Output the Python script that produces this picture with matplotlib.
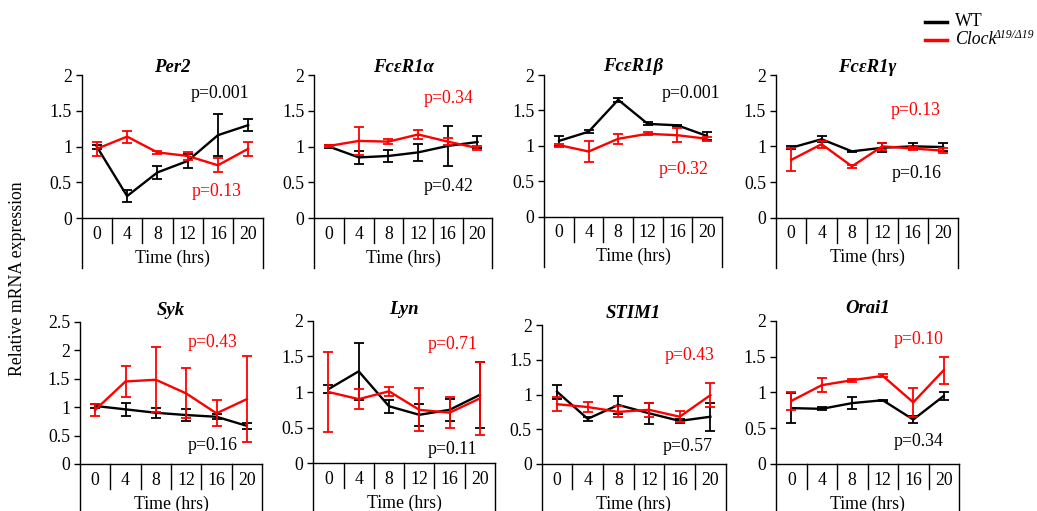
import matplotlib
matplotlib.use("Agg")
import matplotlib.pyplot as plt
import matplotlib.transforms as mtransforms

plt.rcParams['font.family'] = ['Liberation Serif', 'DejaVu Serif']
plt.rcParams['font.size'] = 12.8

times = ['0', '4', '8', '12', '16', '20']
genes = ['Per2', 'FcεR1α', 'FcεR1β', 'FcεR1γ', 'Syk', 'Lyn', 'STIM1', 'Orai1']

# mean and error (SEM) for WT and Clock mutants, per gene
per2_wt = [1.00, 0.31, 0.64, 0.80, 1.16, 1.30]
per2_wt_err = [0.03, 0.08, 0.085, 0.10, 0.29, 0.085]
per2_clk = [0.97, 1.14, 0.92, 0.87, 0.74, 0.97]
per2_clk_err = [0.10, 0.085, 0.02, 0.05, 0.10, 0.10]

fca_wt = [1.00, 0.85, 0.87, 0.92, 1.01, 1.065]
fca_wt_err = [0.02, 0.09, 0.09, 0.12, 0.28, 0.09]
fca_clk = [1.01, 1.08, 1.07, 1.17, 1.07, 0.98]
fca_clk_err = [0.02, 0.19, 0.035, 0.06, 0.05, 0.03]

fcb_wt = [1.07, 1.20, 1.65, 1.31, 1.29, 1.14]
fcb_wt_err = [0.07, 0.02, 0.03, 0.02, 0.01, 0.06]
fcb_clk = [1.01, 0.92, 1.10, 1.17, 1.15, 1.10]
fcb_clk_err = [0.02, 0.145, 0.07, 0.02, 0.10, 0.03]

fcg_wt = [0.98, 1.10, 0.93, 0.98, 1.00, 0.99]
fcg_wt_err = [0.02, 0.04, 0.01, 0.06, 0.04, 0.05]
fcg_clk = [0.81, 1.03, 0.72, 1.00, 0.97, 0.94]
fcg_clk_err = [0.16, 0.05, 0.02, 0.05, 0.02, 0.03]

syk_wt = [1.02, 0.96, 0.90, 0.86, 0.83, 0.67]
syk_wt_err = [0.03, 0.11, 0.09, 0.11, 0.04, 0.05]
syk_clk = [0.95, 1.45, 1.48, 1.24, 0.89, 1.14]
syk_clk_err = [0.11, 0.28, 0.57, 0.44, 0.23, 0.75]

lyn_wt = [1.04, 1.29, 0.80, 0.68, 0.75, 0.96]
lyn_wt_err = [0.06, 0.40, 0.09, 0.15, 0.15, 0.46]
lyn_clk = [1.00, 0.90, 1.01, 0.75, 0.71, 0.91]
lyn_clk_err = [0.56, 0.14, 0.06, 0.30, 0.22, 0.51]

stim_wt = [1.04, 0.65, 0.85, 0.73, 0.62, 0.68]
stim_wt_err = [0.10, 0.03, 0.13, 0.15, 0.03, 0.20]
stim_clk = [0.86, 0.82, 0.75, 0.78, 0.68, 0.99]
stim_clk_err = [0.10, 0.07, 0.08, 0.10, 0.08, 0.17]

orai_wt = [0.78, 0.77, 0.85, 0.89, 0.62, 0.95]
orai_wt_err = [0.21, 0.02, 0.08, 0.01, 0.05, 0.06]
orai_clk = [0.88, 1.10, 1.17, 1.23, 0.86, 1.31]
orai_clk_err = [0.12, 0.10, 0.02, 0.02, 0.20, 0.19]

wt_means = [per2_wt, fca_wt, fcb_wt, fcg_wt, syk_wt, lyn_wt, stim_wt, orai_wt]
wt_errs = [per2_wt_err, fca_wt_err, fcb_wt_err, fcg_wt_err, syk_wt_err, lyn_wt_err, stim_wt_err, orai_wt_err]
clk_means = [per2_clk, fca_clk, fcb_clk, fcg_clk, syk_clk, lyn_clk, stim_clk, orai_clk]
clk_errs = [per2_clk_err, fca_clk_err, fcb_clk_err, fcg_clk_err, syk_clk_err, lyn_clk_err, stim_clk_err, orai_clk_err]

wt_p = ['p=0.001', 'p=0.42', 'p=0.001', 'p=0.16', 'p=0.16', 'p=0.11', 'p=0.57', 'p=0.34']
clk_p = ['p=0.13', 'p=0.34', 'p=0.32', 'p=0.13', 'p=0.43', 'p=0.71', 'p=0.43', 'p=0.10']
ymax = [2, 2, 2, 2, 2.5, 2, 2, 2]

# layout in pixels: left, right, top, bottom(y=0)
W, H = 1037, 511
boxes = [(81.7, 263.3, 75, 218.3), (314.3, 492.3, 75, 218.3),
         (544.3, 721.7, 75, 216.7), (776, 958.3, 75, 217.7),
         (80, 262, 321.7, 464), (313.3, 495, 320.7, 463.3),
         (541.7, 725.7, 325, 464), (776, 959, 320.7, 464)]
# p-value label positions (axes fraction, right aligned)
wt_pos = [(0.923, 0.872), (0.893, 0.221), (0.99, 0.87), (0.91, 0.31),
          (0.864, 0.129), (0.90, 0.10), (0.93, 0.125), (0.917, 0.156)]
clk_pos = [(0.881, 0.186), (0.893, 0.837), (0.928, 0.33), (0.904, 0.75),
           (0.864, 0.855), (0.907, 0.834), (0.942, 0.777), (0.914, 0.87)]
title_y = [1.055, 1.052, 1.06, 1.055, 1.082, 1.08, 1.086, 1.085]

RED = '#FF0000'
fig = plt.figure(figsize=(W / 100, H / 100), dpi=100)
x = list(range(len(times)))

for i, gene in enumerate(genes):
    l, r, t, b = boxes[i]
    ax = fig.add_axes([l / W, 1 - b / H, (r - l) / W, (b - t) / H])
    hpx = b - t
    ax.errorbar(x, wt_means[i], yerr=wt_errs[i], color='black', lw=1.7,
                elinewidth=1.3, capsize=3.8, capthick=1.3, zorder=3)
    ax.errorbar(x, clk_means[i], yerr=clk_errs[i], color=RED, lw=1.7,
                elinewidth=1.3, capsize=3.8, capthick=1.3, zorder=4)
    ax.set_xlim(-0.5, 5.5)
    ax.set_ylim(0, ymax[i])
    yt = [k * 0.5 for k in range(int(ymax[i] / 0.5) + 1)]
    ax.set_yticks(yt)
    ax.set_yticklabels([('%g' % v) for v in yt])
    ax.set_xticks(x)
    ax.set_xticklabels(times)
    ax.tick_params(axis='x', length=0, pad=5.5)
    ax.tick_params(axis='y', length=4, width=1, pad=3)
    for s in ['top', 'right']:
        ax.spines[s].set_visible(False)
    for s in ['left', 'bottom']:
        ax.spines[s].set_linewidth(1.0)

    # category table lines below axis
    trans = mtransforms.blended_transform_factory(ax.transData, ax.transAxes)
    for k in range(len(times) + 1):
        xb = k - 0.5
        depth = 25 if 0 < k < len(times) else (50 if i < 4 else 48)
        ax.plot([xb, xb], [0, -depth / hpx], color='black', lw=1.0,
                transform=trans, clip_on=False)
    ax.text(0.5, -40 / hpx, 'Time (hrs)', transform=ax.transAxes,
            ha='center', va='center')

    ax.text(0.5, title_y[i], gene, transform=ax.transAxes, ha='center',
            va='center', fontsize=13.5, fontweight='bold', fontstyle='italic')
    ax.text(wt_pos[i][0], wt_pos[i][1], wt_p[i], transform=ax.transAxes,
            ha='right', va='center', color='black')
    ax.text(clk_pos[i][0], clk_pos[i][1], clk_p[i], transform=ax.transAxes,
            ha='right', va='center', color=RED)

fig.text(18 / W, 1 - 279 / H, 'Relative mRNA expression', rotation=90,
         ha='center', va='center')

# legend
fig.add_artist(plt.Line2D([925 / W, 947 / W], [1 - 22.5 / H, 1 - 22.5 / H],
                          color='black', lw=2.5))
fig.add_artist(plt.Line2D([925 / W, 947 / W], [1 - 40.5 / H, 1 - 40.5 / H],
                          color=RED, lw=2.5))
fig.text(955 / W, 1 - 22 / H, 'WT', ha='left', va='center')
fig.text(955 / W, 1 - 40 / H, 'Clock', ha='left', va='center',
         fontstyle='italic')
fig.text(993 / W, 1 - 35 / H, 'Δ19/Δ19', ha='left', va='center', fontsize=8.5,
         fontstyle='italic')

fig.savefig('out.png', dpi=100)
